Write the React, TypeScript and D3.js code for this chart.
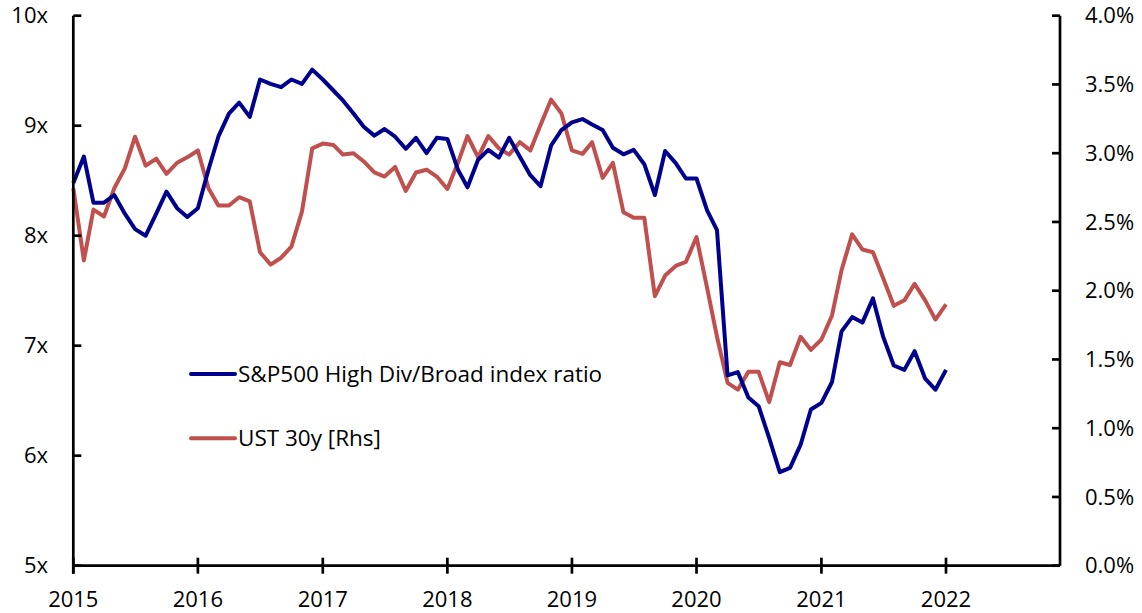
import React from "react";
import * as d3 from "d3";

// monthly, Jan 2015 .. Jan 2022
const ratio = [
  8.48, 8.72, 8.3, 8.3, 8.37, 8.2, 8.06, 8.0, 8.2, 8.4, 8.25, 8.17,
  8.25, 8.6, 8.9, 9.11, 9.21, 9.08, 9.42, 9.38, 9.35, 9.42, 9.38, 9.51,
  9.42, 9.32, 9.23, 9.11, 8.99, 8.91, 8.97, 8.9, 8.79, 8.89, 8.75, 8.89,
  8.88, 8.6, 8.44, 8.69, 8.78, 8.71, 8.89, 8.72, 8.55, 8.45, 8.82, 8.96,
  9.03, 9.06, 9.01, 8.96, 8.8, 8.74, 8.78, 8.65, 8.37, 8.77, 8.66, 8.52,
  8.52, 8.23, 8.05, 6.73, 6.76, 6.53, 6.45, 6.16, 5.85, 5.89, 6.1, 6.42,
  6.48, 6.67, 7.13, 7.26, 7.21, 7.43, 7.08, 6.82, 6.78, 6.95, 6.7, 6.6,
  6.78,
];
const ust30 = [
  2.745, 2.22, 2.59, 2.54, 2.745, 2.89, 3.12, 2.91, 2.96, 2.85, 2.93, 2.97,
  3.02, 2.745, 2.62, 2.62, 2.68, 2.65, 2.28, 2.19, 2.24, 2.32, 2.575, 3.035,
  3.07, 3.06, 2.99, 3.0, 2.94, 2.86, 2.83, 2.9, 2.725, 2.86, 2.88, 2.83,
  2.74, 2.93, 3.125, 2.97, 3.125, 3.035, 2.99, 3.08, 3.02, 3.205, 3.39, 3.29,
  3.02, 2.995, 3.08, 2.82, 2.93, 2.57, 2.53, 2.53, 1.96, 2.11, 2.18, 2.21,
  2.39, 2.02, 1.665, 1.33, 1.28, 1.41, 1.41, 1.19, 1.48, 1.46, 1.665, 1.57,
  1.645, 1.82, 2.15, 2.41, 2.3, 2.28, 2.09, 1.89, 1.93, 2.05, 1.93, 1.79,
  1.9,
];
const leftTicks = [5, 6, 7, 8, 9, 10];
const rightTicks = [0, 0.5, 1, 1.5, 2, 2.5, 3, 3.5, 4];
const years = [2015, 2016, 2017, 2018, 2019, 2020, 2021, 2022];
const seriesNames = ["S&P500 High Div/Broad index ratio", "UST 30y [Rhs]"];

const W = 1142, H = 613;
const left = 73.3, right = 1060, top = 15.7, bottom = 565.7;
const font = "'Open Sans', sans-serif";
const blue = "#00008E";
const red = "#C0504D";

const App = () => {
  const x = d3.scaleTime()
    .domain([new Date(2015, 0, 1), new Date(2022, 11, 1)])
    .range([left, right]);
  const yL = d3.scaleLinear().domain([5, 10]).range([bottom, top]);
  const yR = d3.scaleLinear().domain([0, 4]).range([bottom, top]);

  const lineL = d3.line<number>()
    .x((d, i) => x(new Date(2015, i, 1)))
    .y((d) => yL(d));
  const lineR = d3.line<number>()
    .x((d, i) => x(new Date(2015, i, 1)))
    .y((d) => yR(d));

  return (
    <div style={{ position: "absolute", left: 0, top: 0 }}>
      <svg width={W} height={H} fontFamily={font}>
        <rect width={W} height={H} fill="#fff" />
        {/* lines */}
        <path d={lineR(ust30) || ""} fill="none" stroke={red} strokeWidth={4} strokeLinejoin="round" />
        <path d={lineL(ratio) || ""} fill="none" stroke={blue} strokeWidth={4} strokeLinejoin="round" />

        {/* left axis */}
        <line x1={left} x2={left} y1={top} y2={bottom + 8} stroke="#000" strokeWidth={2.7} />
        {leftTicks.map((t) => (
          <g key={t}>
            <line x1={left} x2={left + 8} y1={yL(t)} y2={yL(t)} stroke="#000" strokeWidth={2.7} />
            <text x={48} y={yL(t)} dy="0.35em" textAnchor="end" fontSize={22} fill="#000">
              {t + "x"}
            </text>
          </g>
        ))}

        {/* right axis */}
        <line x1={right} x2={right} y1={top} y2={bottom} stroke="#000" strokeWidth={2.7} />
        {rightTicks.map((t) => (
          <g key={t}>
            <line x1={right - 8} x2={right} y1={yR(t)} y2={yR(t)} stroke="#000" strokeWidth={2.7} />
            <text x={1085} y={yR(t)} dy="0.35em" textAnchor="start" fontSize={22} fill="#000">
              {t.toFixed(1) + "%"}
            </text>
          </g>
        ))}

        {/* bottom axis */}
        <line x1={left} x2={right} y1={bottom} y2={bottom} stroke="#000" strokeWidth={2.7} />
        {years.map((yr) => {
          const xx = x(new Date(yr, 0, 1));
          return (
            <g key={yr}>
              <line x1={xx} x2={xx} y1={bottom - 8} y2={bottom + 8} stroke="#000" strokeWidth={2.7} />
              <text x={xx} y={607} textAnchor="middle" fontSize={22} fill="#000">
                {yr}
              </text>
            </g>
          );
        })}

        {/* legend */}
        {seriesNames.map((name, i) => {
          const ly = i === 0 ? 374 : 438.3;
          return (
            <g key={name}>
              <line x1={191} x2={235} y1={ly} y2={ly} stroke={i === 0 ? blue : red} strokeWidth={4} strokeLinecap="round" />
              <text x={238} y={ly} dy="0.35em" fontSize={22.5} fill="#000">
                {name}
              </text>
            </g>
          );
        })}
      </svg>
    </div>
  );
};

export default App;
